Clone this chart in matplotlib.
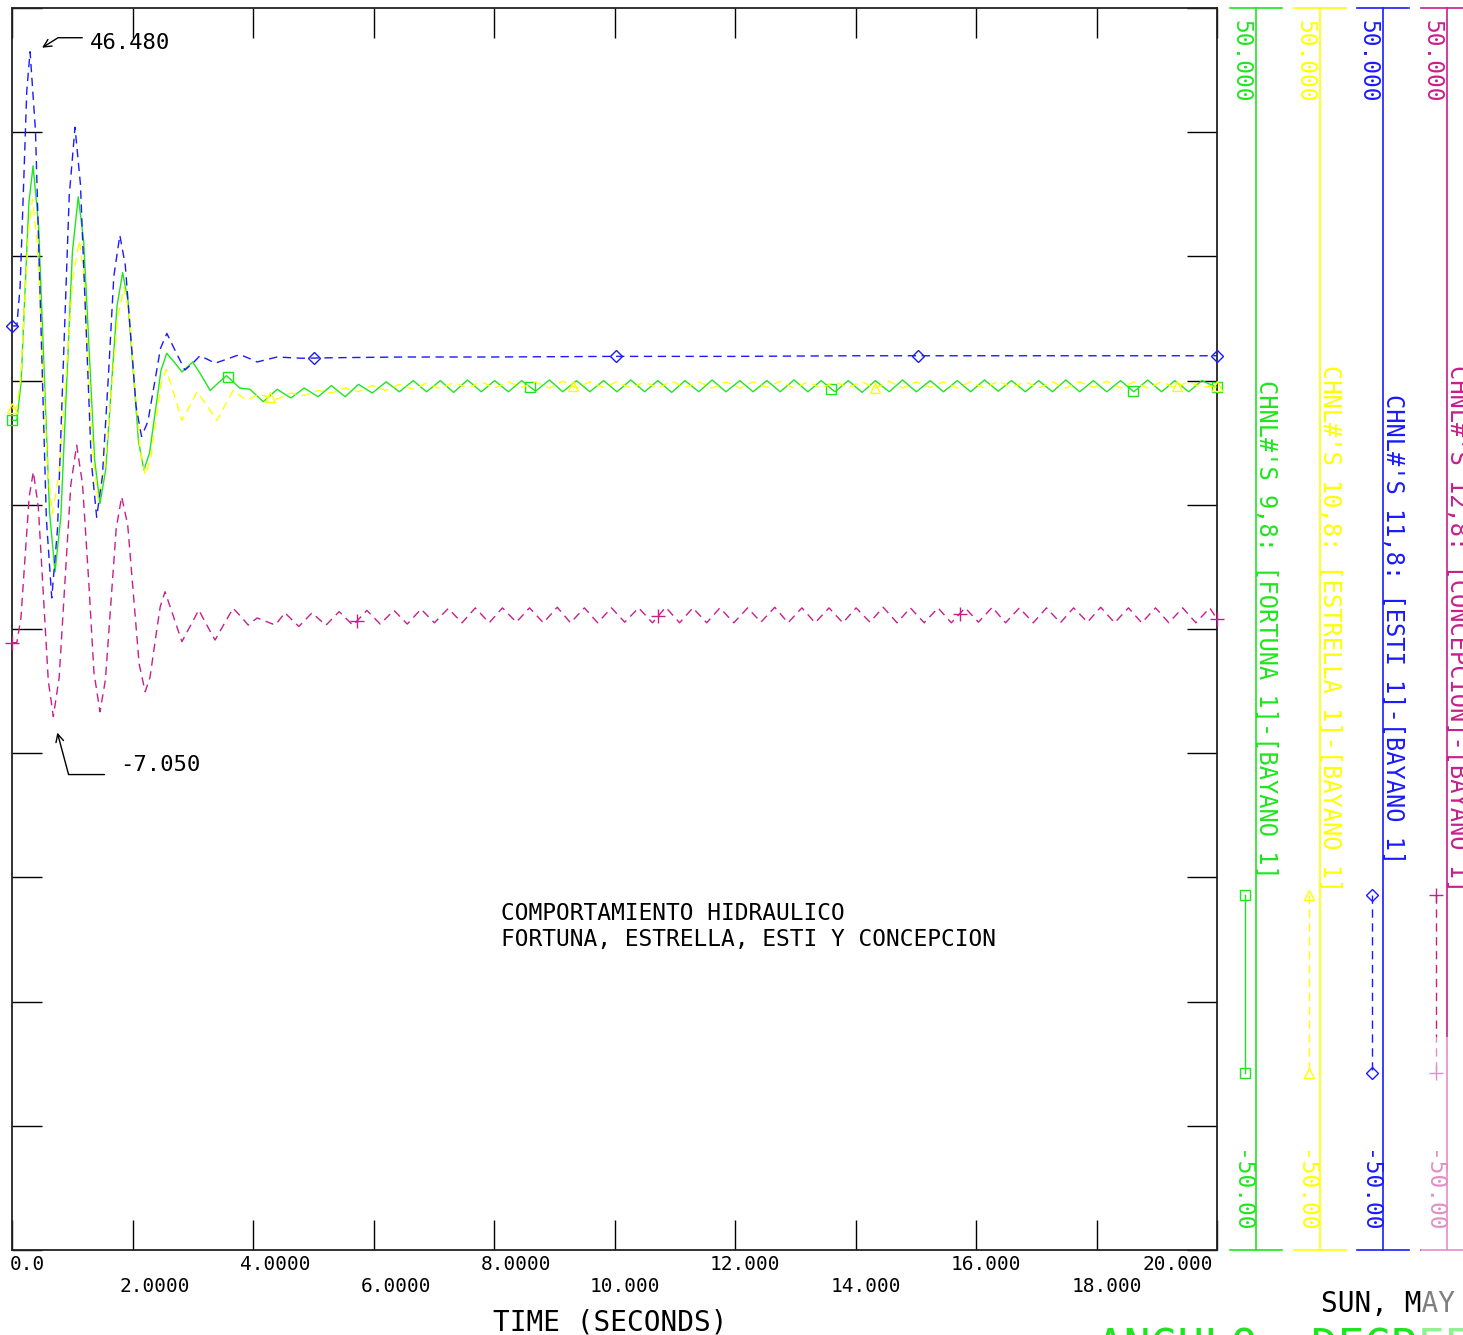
import numpy as np
import matplotlib
matplotlib.use("Agg")
import matplotlib.pyplot as plt
from matplotlib.patches import Rectangle
from matplotlib.transforms import blended_transform_factory, offset_copy

plt.rcParams['font.family'] = ['DejaVu Sans Mono']

# ---- values: time (s) and channel value ----
# sample times of the slow 2.2 Hz swing after 4.4 s (channels 9 and 10)
t_tail_a = [4.40, 4.63, 4.85, 5.08, 5.30, 5.53, 5.75, 5.98, 6.21, 6.43, 6.66, 6.88,
            7.11, 7.33, 7.56, 7.79, 8.01, 8.24, 8.46, 8.69, 8.92, 9.14, 9.37, 9.59,
            9.82, 10.04, 10.27, 10.50, 10.72, 10.95, 11.17, 11.40, 11.62, 11.85, 12.08, 12.30,
            12.53, 12.75, 12.98, 13.21, 13.43, 13.66, 13.88, 14.11, 14.33, 14.56, 14.78, 15.01,
            15.24, 15.46, 15.69, 15.91, 16.14, 16.37, 16.59, 16.82, 17.04, 17.27, 17.49, 17.72,
            17.95, 18.17, 18.40, 18.62, 18.85, 19.08, 19.30, 19.53, 19.75, 20.0]
# same for channel 12 (peaks a little later)
t_tail_b = [4.53, 4.76, 4.98, 5.21, 5.43, 5.66, 5.89, 6.11, 6.34, 6.56, 6.79, 7.01,
            7.24, 7.47, 7.69, 7.92, 8.14, 8.37, 8.59, 8.82, 9.05, 9.27, 9.50, 9.72,
            9.95, 10.17, 10.40, 10.63, 10.85, 11.08, 11.30, 11.53, 11.75, 11.98, 12.21, 12.43,
            12.66, 12.88, 13.11, 13.33, 13.56, 13.79, 14.01, 14.24, 14.46, 14.69, 14.91, 15.14,
            15.37, 15.59, 15.82, 16.04, 16.27, 16.49, 16.72, 16.95, 17.17, 17.40, 17.62, 17.85,
            18.07, 18.30, 18.53, 18.75, 18.98, 19.20, 19.43, 19.65, 19.88, 20.0]

# CHNL 9: FORTUNA 1
t_fortuna = [0.0, 0.08, 0.15, 0.215, 0.28, 0.35, 0.441, 0.532, 0.623, 0.714, 0.81, 0.907,
             1.003, 1.10, 1.19, 1.28, 1.37, 1.46, 1.554, 1.648, 1.743, 1.837, 1.925, 2.013,
             2.10, 2.19, 2.284, 2.378, 2.472, 2.567, 2.69, 2.82, 2.91, 3.0, 3.145, 3.29,
             3.42, 3.56, 3.67, 3.78, 3.95, 4.17] + t_tail_a
v_fortuna = [16.8, 16.8, 19.8, 27.05, 34.3, 37.3, 32.5, 20.95, 9.4, 4.6, 9.0, 19.7,
             30.4, 34.8, 31.2, 22.45, 13.7, 10.1, 12.8, 19.4, 26.0, 28.7, 26.4, 20.75,
             15.1, 12.8, 14.2, 17.5, 20.8, 22.2, 21.5, 20.7, 21.1, 21.5, 20.4, 19.2,
             19.8, 20.4, 19.9, 19.4, 19.3, 18.3,
             19.3, 18.6, 19.4, 18.7, 19.6, 18.7, 19.7, 19.0, 19.9, 19.1, 20.0, 19.1,
             20.0, 19.05, 20.05, 19.1, 20.0, 19.1, 20.0, 19.15, 20.05, 19.1, 20.0, 19.1,
             20.0, 19.1, 20.05, 19.1, 20.0, 19.05, 20.0, 19.1, 20.05, 19.1, 20.0, 19.1,
             20.0, 19.1, 20.05, 19.1, 20.0, 19.1, 20.0, 19.05, 20.0, 19.1, 20.05, 19.1,
             20.0, 19.1, 20.0, 19.1, 20.05, 19.15, 20.0, 19.1, 20.0, 19.1, 20.05, 19.1,
             20.0, 19.1, 20.0, 19.1, 20.05, 19.1, 20.0, 19.1, 20.0, 19.45]

# CHNL 10: ESTRELLA 1
t_estrella = [0.0, 0.08, 0.145, 0.21, 0.275, 0.34, 0.4225, 0.505, 0.5875, 0.67, 0.7825, 0.895,
              1.0075, 1.12, 1.1975, 1.275, 1.3525, 1.43, 1.5375, 1.645, 1.7525, 1.86, 1.9475, 2.035,
              2.1225, 2.21, 2.2975, 2.385, 2.4725, 2.56, 2.69, 2.82, 2.945, 3.07, 3.235, 3.40,
              3.535, 3.67, 3.785, 3.90, 4.10] + t_tail_a
v_estrella = [17.8, 17.8, 20.25, 26.2, 32.15, 34.6, 30.9, 21.95, 13.0, 9.3, 12.5, 20.3,
              28.1, 31.3, 28.25, 20.85, 13.45, 10.4, 12.9, 18.95, 25.0, 27.5, 25.3, 19.95,
              14.6, 12.4, 13.6, 16.65, 19.7, 20.9, 18.9, 16.8, 17.9, 19.1, 18.0, 16.8,
              18.0, 19.2, 18.8, 18.4, 18.9,
              18.5, 19.0, 18.8, 19.2, 19.0, 19.4, 19.1, 19.6, 19.2, 19.7, 19.3, 19.8,
              19.35, 19.85, 19.4, 19.9, 19.4, 19.9, 19.45, 19.9, 19.4, 19.95, 19.4, 19.9,
              19.45, 19.9, 19.4, 19.9, 19.4, 19.95, 19.45, 19.9, 19.4, 19.9, 19.4, 19.9,
              19.45, 19.95, 19.4, 19.9, 19.4, 19.9, 19.45, 19.9, 19.4, 19.95, 19.4, 19.9,
              19.45, 19.9, 19.4, 19.9, 19.4, 19.95, 19.45, 19.9, 19.4, 19.9, 19.4, 19.9,
              19.45, 19.95, 19.4, 19.9, 19.4, 19.9, 19.45, 19.9, 19.45, 19.6]

# CHNL 11: ESTI 1
t_esti = [0.0, 0.08, 0.135, 0.19, 0.245, 0.30, 0.39, 0.48, 0.57, 0.66, 0.756, 0.853,
          0.95, 1.046, 1.136, 1.226, 1.315, 1.405, 1.50, 1.60, 1.69, 1.79, 1.88, 1.97,
          2.06, 2.15, 2.255, 2.36, 2.465, 2.57, 2.72, 2.87, 3.0, 3.12, 3.25, 3.37,
          3.58, 3.78, 3.93, 4.07, 4.40, 4.8, 5.5, 6.5, 8.0, 10.0, 12.0, 14.0,
          16.0, 18.0, 20.0]
v_esti = [24.4, 24.4, 27.6, 35.4, 43.3, 46.48, 40.1, 24.5, 8.9, 2.5, 8.1, 21.5,
          34.9, 40.4, 35.8, 24.7, 13.6, 9.0, 12.3, 20.35, 28.4, 31.7, 29.3, 23.6,
          17.9, 15.5, 16.7, 19.65, 22.6, 23.8, 22.3, 20.85, 21.4, 22.0, 21.7, 21.4,
          21.75, 22.1, 21.8, 21.5, 21.9, 21.8, 21.85, 21.9, 21.9, 21.95, 21.95, 22.0,
          22.0, 22.0, 22.0]

# CHNL 12: CONCEPCION
t_concepcion = [0.0, 0.08, 0.1485, 0.217, 0.2855, 0.354, 0.437, 0.52, 0.603, 0.686, 0.783, 0.88,
                0.976, 1.073, 1.17, 1.27, 1.36, 1.46, 1.55, 1.64, 1.73, 1.82, 1.92, 2.015,
                2.11, 2.21, 2.29, 2.375, 2.46, 2.54, 2.68, 2.82, 2.96, 3.10, 3.235, 3.37,
                3.52, 3.67, 3.80, 3.92, 4.07, 4.22, 4.37] + t_tail_b
v_concepcion = [-1.1, -1.1, 0.9, 5.8, 10.65, 12.66, 9.8, 2.8, -4.2, -7.05, -3.9, 3.9,
                11.6, 14.8, 11.7, 4.1, -3.5, -6.66, -4.1, 2.0, 8.1, 10.65, 8.4, 2.8,
                -2.8, -5.05, -3.9, -1.0, 1.8, 3.0, 1.0, -1.02, 0.25, 1.53, 0.3, -0.89,
                0.4, 1.67, 1.0, 0.32, 0.89, 0.6, 0.32,
                1.3, 0.2, 1.3, 0.3, 1.4, 0.3, 1.5, 0.4, 1.5, 0.4, 1.6, 0.5,
                1.65, 0.5, 1.7, 0.5, 1.7, 0.55, 1.7, 0.5, 1.75, 0.5, 1.7, 0.5,
                1.7, 0.55, 1.7, 0.5, 1.75, 0.5, 1.7, 0.5, 1.7, 0.5, 1.7, 0.55,
                1.75, 0.5, 1.7, 0.5, 1.7, 0.5, 1.7, 0.55, 1.75, 0.5, 1.7, 0.5,
                1.7, 0.5, 1.7, 0.55, 1.75, 0.5, 1.7, 0.5, 1.7, 0.5, 1.7, 0.55,
                1.75, 0.5, 1.7, 0.5, 1.7, 0.5, 1.7, 0.5, 1.7, 0.8]

# symbol positions along each trace
mk_fortuna = [0.0, 3.58, 8.6, 13.6, 18.6, 20.0]
mk_estrella = [0.0, 4.28, 9.31, 14.32, 19.34, 20.0]
mk_esti = [0.0, 5.01, 10.02, 15.04, 20.0]
mk_concepcion = [0.0, 5.73, 10.72, 15.73, 20.0]

channel_names = ["CHNL#'S 9,8: [FORTUNA 1]-[BAYANO 1]",
                 "CHNL#'S 10,8: [ESTRELLA 1]-[BAYANO 1]",
                 "CHNL#'S 11,8: [ESTI 1]-[BAYANO 1]",
                 "CHNL#'S 12,8: [CONCEPCION]-[BAYANO 1]"]
channel_max = [50.0, 50.0, 50.0, 50.0]
channel_min = [-50.0, -50.0, -50.0, -50.0]

xtick_vals = [0, 2, 4, 6, 8, 10, 12, 14, 16, 18, 20]
xtick_txt = ["0.0", "2.0000", "4.0000", "6.0000", "8.0000", "10.000",
             "12.000", "14.000", "16.000", "18.000", "20.000"]

# ---- styling ----
colors = ['#1EE61E', '#FFFF00', '#1A1AFF', '#C81E8C']
lstyles = ['-', (0, (6, 4)), (0, (6, 4)), (0, (6, 4))]
markers = ['s', '^', 'D', '+']
msizes = [7, 7, 6, 10]

W, H = 1463, 1335
fig = plt.figure(figsize=(W / 100, H / 100), dpi=100)
fig.patch.set_facecolor('white')
ax = fig.add_axes([12 / W, 1 - 1250 / H, (1217 - 12) / W, (1250 - 8) / H])

series = [(t_fortuna, v_fortuna, mk_fortuna),
          (t_estrella, v_estrella, mk_estrella),
          (t_esti, v_esti, mk_esti),
          (t_concepcion, v_concepcion, mk_concepcion)]

for i, (t, v, mk) in enumerate(series):
    ax.plot(t, v, color=colors[i], linestyle=lstyles[i], linewidth=1.0, zorder=3 + i)
    ax.plot(mk, np.interp(mk, t, v), linestyle='none', marker=markers[i], markersize=msizes[i],
            markerfacecolor='none', markeredgecolor=colors[i], markeredgewidth=1.0,
            clip_on=False, zorder=3 + i)

ax.set_xlim(0, 20)
ax.set_ylim(-50, 50)
ax.set_xticks(xtick_vals)
ax.set_yticks(np.arange(-50, 51, 10))
ax.tick_params(direction='in', length=21.6, width=1.0, color='black',
               top=True, right=True, labelbottom=False, labelleft=False)
for s in ax.spines.values():
    s.set_linewidth(1.3)
    s.set_color('#222222')

# x tick labels, two staggered rows like the original plotter
xblend = blended_transform_factory(ax.transData, fig.transFigure)
for i, (tv, s) in enumerate(zip(xtick_vals, xtick_txt)):
    ypx = 1265 if i % 2 == 0 else 1286
    if i == 0:
        ha, dx = 'left', -2
    elif i == len(xtick_vals) - 1:
        ha, dx = 'right', -4
    else:
        ha, dx = 'left', -12 * len(s.split('.')[0]) - 1
    tr = offset_copy(xblend, fig=fig, x=dx, y=0, units='dots')
    ax.text(tv, 1 - ypx / H, s, transform=tr, ha=ha, va='center', fontsize=14, clip_on=False)

fig.text(493 / W, 1 - 1322 / H, "TIME (SECONDS)", ha='left', va='center', fontsize=20)

# max / min callouts
i_max = int(np.argmax(v_esti))
ax.annotate(f"{v_esti[i_max]:.3f}", xy=(t_esti[i_max], v_esti[i_max]),
            xycoords=offset_copy(ax.transData, fig=fig, x=12, y=4, units='dots'),
            xytext=(48, 5), textcoords='offset pixels', ha='left', va='center', fontsize=16,
            arrowprops=dict(arrowstyle='->', connectionstyle='angle,angleA=180,angleB=32,rad=0',
                            relpos=(0, 0.75), shrinkA=3.6, shrinkB=0, lw=1.0, color='black',
                            mutation_scale=14))
i_min = int(np.argmin(v_concepcion))
ax.annotate(f"{v_concepcion[i_min]:.3f}", xy=(t_concepcion[i_min], v_concepcion[i_min]),
            xycoords=offset_copy(ax.transData, fig=fig, x=4, y=-16, units='dots'),
            xytext=(63, -32), textcoords='offset pixels', ha='left', va='center', fontsize=16,
            arrowprops=dict(arrowstyle='->', connectionstyle='angle,angleA=180,angleB=-75,rad=0',
                            relpos=(0, 0), shrinkA=9.4, shrinkB=0, lw=1.0, color='black',
                            mutation_scale=14))

ax.text(8.12, -22.87, "COMPORTAMIENTO HIDRAULICO", ha='left', va='center', fontsize=16.5)
ax.text(8.12, -25.04, "FORTUNA, ESTRELLA, ESTI Y CONCEPCION", ha='left', va='center', fontsize=16.5)

# channel scales on the right
axis_px = [1256, 1320, 1383, 1447]
cblend = blended_transform_factory(fig.transFigure, ax.transData)
for i, xp in enumerate(axis_px):
    c = colors[i]
    ax.plot([xp / W, xp / W], [channel_min[i], channel_max[i]], transform=cblend,
            color=c, lw=1.2, clip_on=False)
    for yv in (channel_min[i], channel_max[i]):
        ax.plot([(xp - 26) / W, (xp + 26) / W], [yv, yv], transform=cblend,
                color=c, lw=1.2, clip_on=False)
    fig.text((xp - 15) / W, 1 - 20 / H, f"{channel_max[i]:.3f}"[:6], rotation=270,
             ha='center', va='top', fontsize=16.5, color=c)
    fig.text((xp - 15) / W, 1 - 1232 / H, f"{channel_min[i]:.3f}"[:6], rotation=270,
             ha='center', va='bottom', fontsize=16.5, color=c)
    ax.text((xp + 11) / W, 0, channel_names[i], transform=cblend, rotation=270,
            ha='center', va='center', fontsize=17, color=c, clip_on=False)
    # legend sample
    ax.plot([(xp - 11) / W] * 2, [1 - 895 / H, 1 - 1073 / H], transform=fig.transFigure,
            color=c, linestyle=lstyles[i], lw=1.0, marker=markers[i], markersize=msizes[i],
            markerfacecolor='none', markeredgecolor=c, clip_on=False)

fig.text(1321 / W, 1 - 1304 / H, "SUN, MAY", ha='left', va='center', fontsize=20)
fig.text(1097 / W, 1 - 1328 / H, "ANGULO  DEGREES", ha='left', va='top', fontsize=32,
         color=colors[0])

# washed-out corner of the scan
fig.add_artist(Rectangle((1421 / W, 0), (W - 1421) / W, 1 - 1037 / H, transform=fig.transFigure,
                         facecolor='white', edgecolor='none', alpha=0.5, zorder=20))

fig.savefig("out.png", dpi=100)
